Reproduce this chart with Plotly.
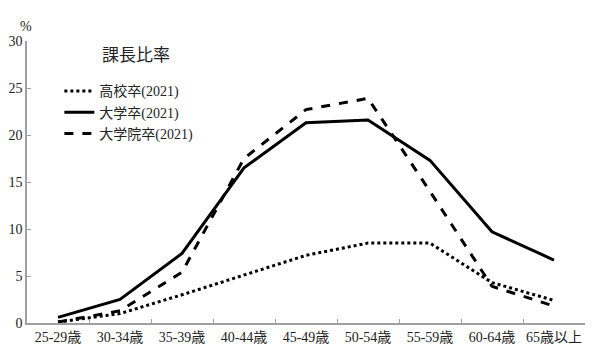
import plotly.graph_objects as go

categories = ["25-29歳", "30-34歳", "35-39歳", "40-44歳", "45-49歳",
              "50-54歳", "55-59歳", "60-64歳", "65歳以上"]
koukou = [0.1, 1.0, 3.0, 5.1, 7.2, 8.5, 8.5, 4.3, 2.4]
daigaku = [0.6, 2.5, 7.4, 16.5, 21.3, 21.6, 17.3, 9.7, 6.7]
daigakuin = [0.1, 1.3, 5.4, 17.5, 22.7, 23.9, 14.0, 3.9, 1.8]
names = ["高校卒(2021)", "大学卒(2021)", "大学院卒(2021)"]
y_ticks = [0, 5, 10, 15, 20, 25, 30]

font_family = "Liberation Serif, Noto Sans CJK JP, serif"

fig = go.Figure()
fig.add_trace(go.Scatter(x=categories, y=koukou, name=names[0], mode="lines",
                         line=dict(color="black", width=3, dash="dot")))
fig.add_trace(go.Scatter(x=categories, y=daigaku, name=names[1], mode="lines",
                         line=dict(color="black", width=3)))
fig.add_trace(go.Scatter(x=categories, y=daigakuin, name=names[2], mode="lines",
                         line=dict(color="black", width=3, dash="dash")))

fig.update_layout(
    width=601, height=363,
    margin=dict(l=27, r=16, t=41, b=40),
    paper_bgcolor="white", plot_bgcolor="white",
    font=dict(family=font_family, size=14, color="#222"),
    showlegend=True,
    legend=dict(x=0.058, y=0.878, xanchor="left", yanchor="top",
                bgcolor="rgba(0,0,0,0)", font=dict(size=14, color="#222"),
                itemwidth=30, tracegroupgap=0),
    xaxis=dict(type="category", range=[-0.5, 8.5], tickson="boundaries",
               ticks="inside", ticklen=4, tickcolor="#a0a0a0", tickangle=0,
               showline=True, linecolor="#a0a0a0", linewidth=1.5,
               showgrid=False, zeroline=False, automargin=False,
               tickfont=dict(size=14, color="#222")),
    yaxis=dict(range=[0, 30], tickvals=y_ticks,
               ticks="inside", ticklen=4, tickcolor="#a0a0a0",
               showline=True, linecolor="#a0a0a0", linewidth=1.5,
               showgrid=False, zeroline=False, automargin=False,
               tickfont=dict(size=14, color="#222")),
    annotations=[
        dict(text="課長比率", x=0.13, y=0.95, xref="paper", yref="paper",
             xanchor="left", yanchor="middle", showarrow=False,
             font=dict(size=17, color="#222")),
        dict(text="%", x=-0.002, y=1.05, xref="paper", yref="paper",
             xanchor="center", yanchor="middle", showarrow=False,
             font=dict(size=14, color="#222")),
    ],
)

fig.write_html("out.html",
               config={"displayModeBar": False},
               post_script="document.body.style.margin='0px';document.body.style.overflow='hidden';")
